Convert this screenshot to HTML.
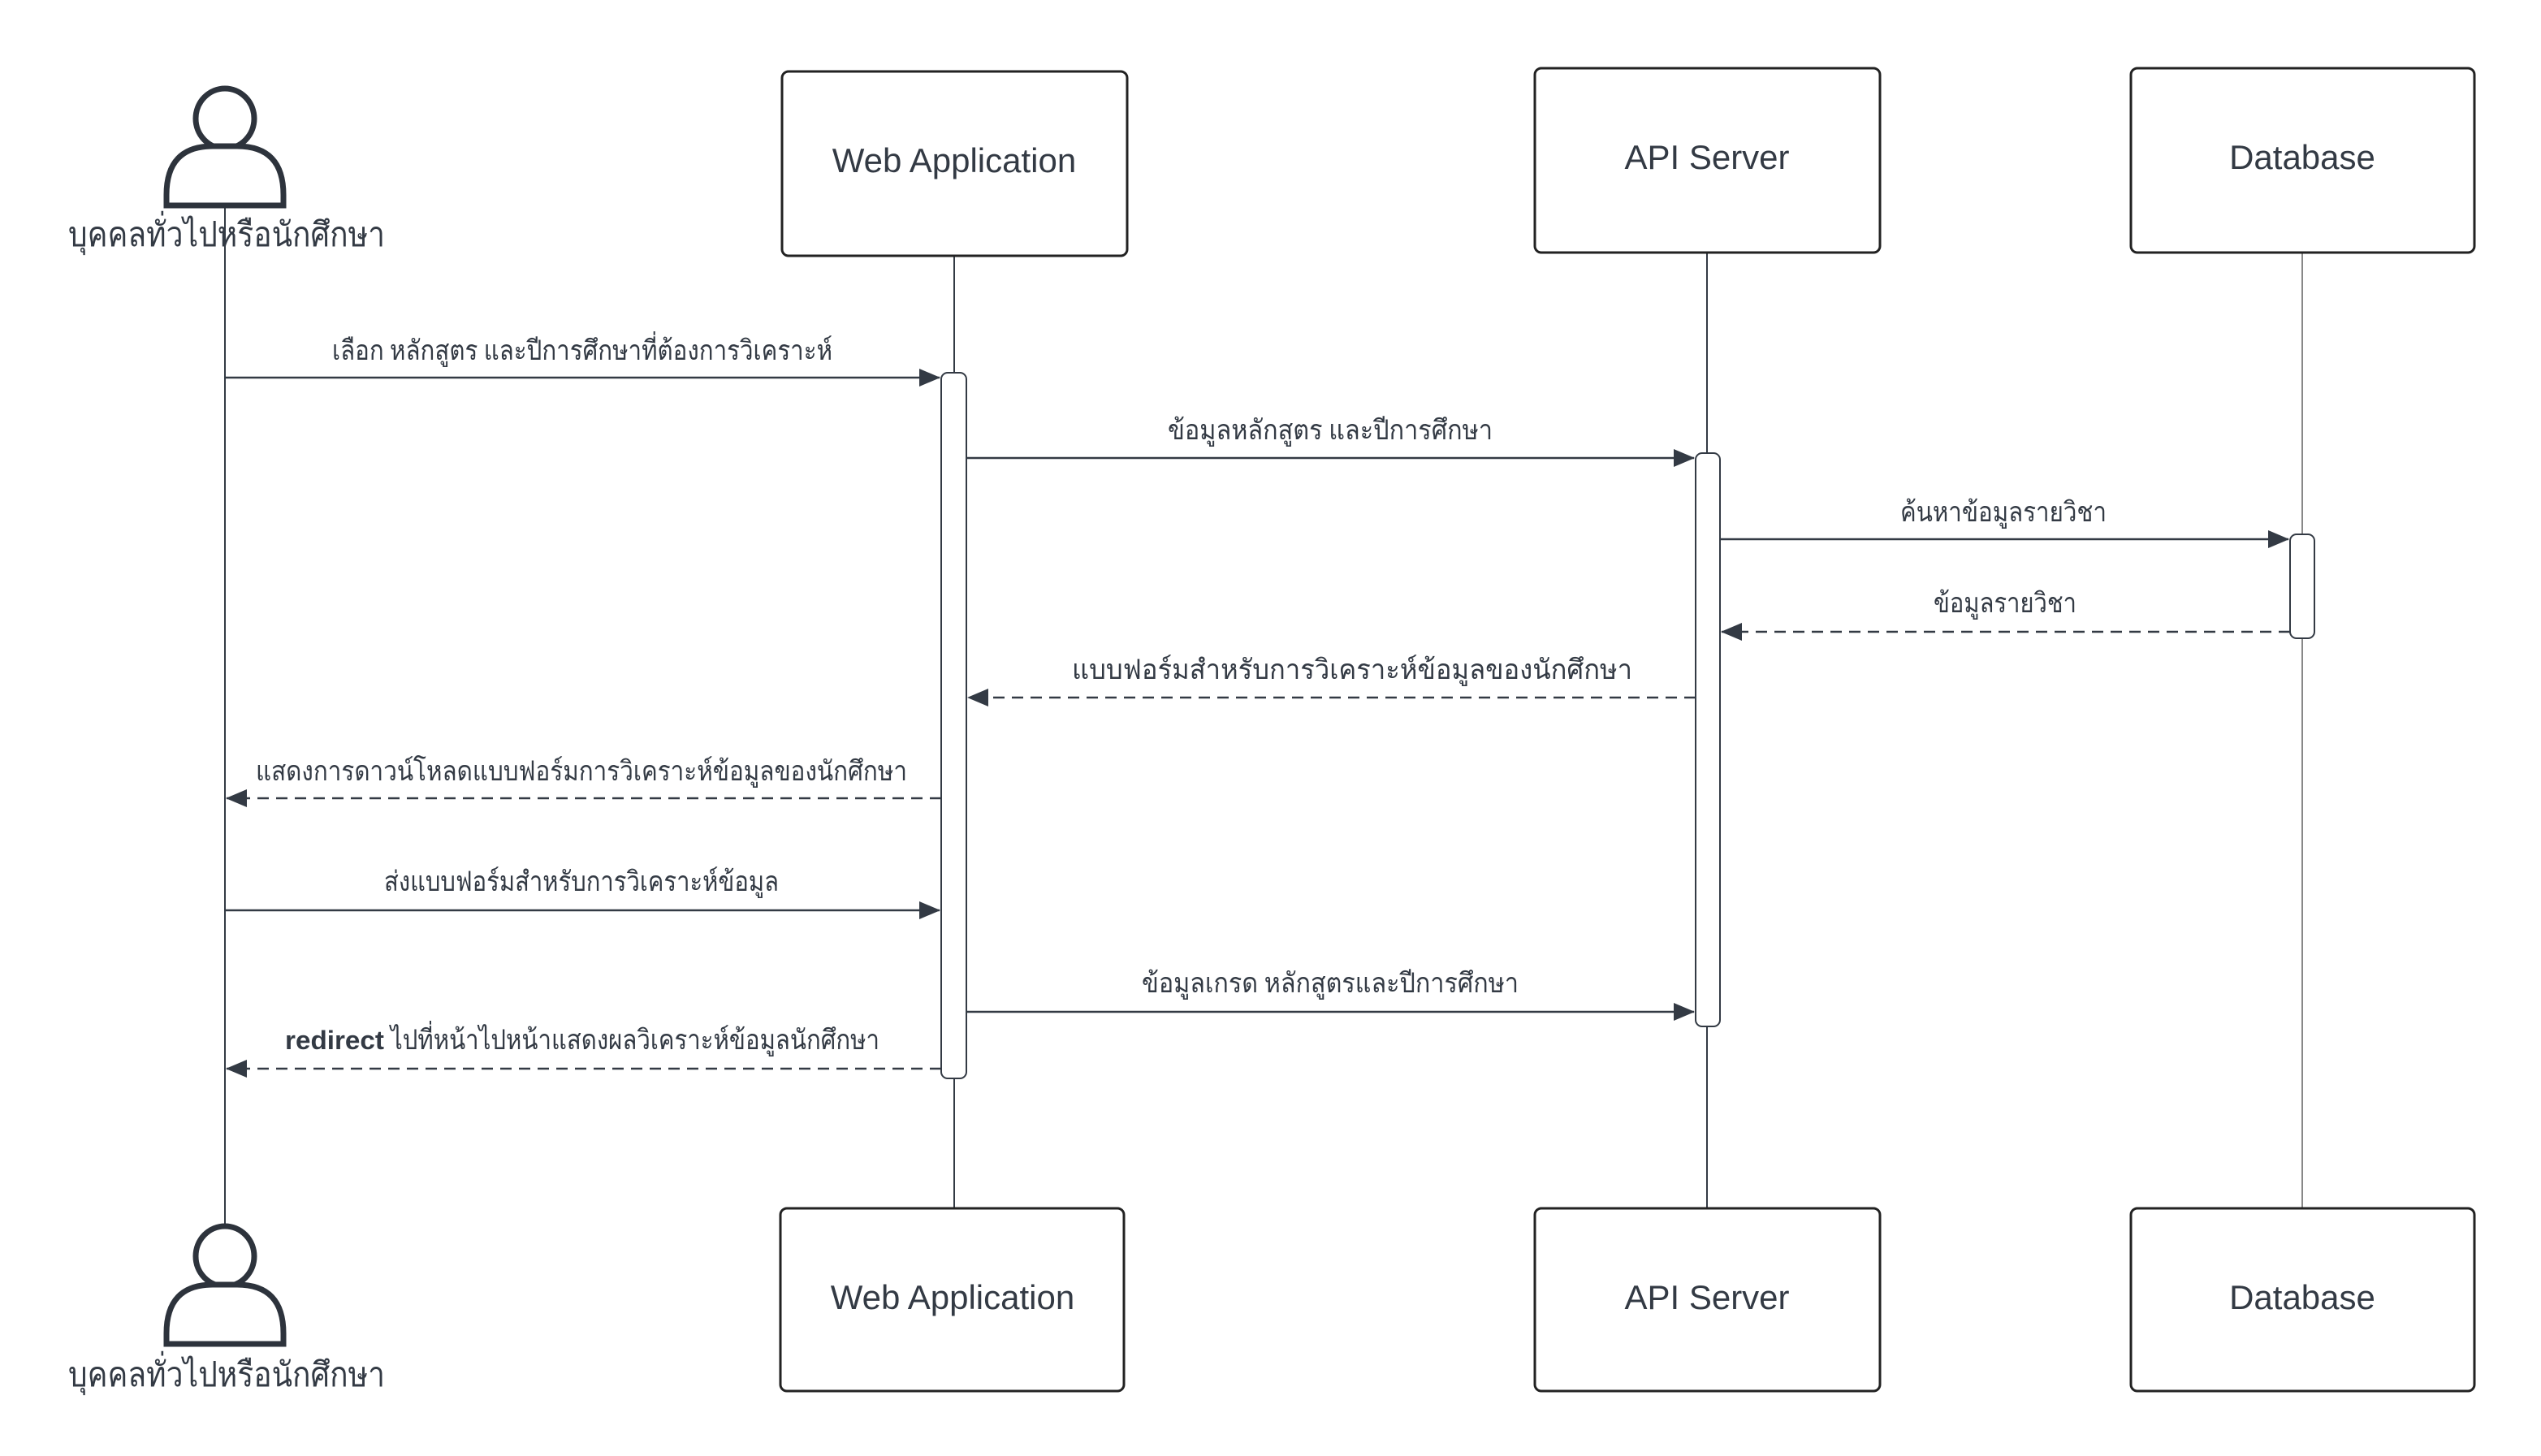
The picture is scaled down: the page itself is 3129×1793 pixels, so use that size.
<!DOCTYPE html>
<html><head><meta charset="utf-8"><style>
html,body{margin:0;padding:0;background:#fff;}
svg{display:block;}
text{font-family:"Liberation Sans","Noto Sans CJK SC",sans-serif;fill:#333a44;}
.t{font-family:"Liberation Serif","Noto Serif CJK SC",serif;font-size:34px;}
.b{font-size:42px;}
</style></head><body>
<svg width="3129" height="1793" viewBox="0 0 3129 1793" xmlns="http://www.w3.org/2000/svg">
<defs>
<marker id="a" markerWidth="26" markerHeight="22" refX="25" refY="11" orient="auto" markerUnits="userSpaceOnUse" viewBox="0 0 26 22"><path d="M0,0 L26,11 L0,22 z" fill="#333a44"/></marker>
</defs>
<g stroke="#333a44" stroke-width="2" fill="none">
<line x1="277" y1="255" x2="277" y2="1515"/>
<line x1="1175" y1="315" x2="1175" y2="1488"/>
<line x1="2102" y1="311" x2="2102" y2="1488"/>
<line x1="2835" y1="311" x2="2835" y2="1488" stroke="#888"/>
</g>
<g stroke="#222" stroke-width="3" fill="#fff">
<rect x="963" y="88" width="425" height="227" rx="8"/>
<rect x="1890" y="84" width="425" height="227" rx="8"/>
<rect x="2624" y="84" width="423" height="227" rx="8"/>
<rect x="961" y="1488" width="423" height="225" rx="8"/>
<rect x="1890" y="1488" width="425" height="225" rx="8"/>
<rect x="2624" y="1488" width="423" height="225" rx="8"/>
</g>
<text class="b" x="1175" y="212" text-anchor="middle">Web Application</text>
<text class="b" x="2102" y="208" text-anchor="middle">API Server</text>
<text class="b" x="2835" y="208" text-anchor="middle">Database</text>
<text class="b" x="1173" y="1612" text-anchor="middle">Web Application</text>
<text class="b" x="2102" y="1612" text-anchor="middle">API Server</text>
<text class="b" x="2835" y="1612" text-anchor="middle">Database</text>
<g stroke="#2d333c" stroke-width="7" fill="#fff">
<ellipse cx="277" cy="146" rx="36" ry="37"/>
<path d="M205,253 L205,240 Q205,180 262,180 L292,180 Q349,180 349,240 L349,253 Z"/>
<ellipse cx="277" cy="1547" rx="36" ry="37"/>
<path d="M205,1655 L205,1642 Q205,1582 262,1582 L292,1582 Q349,1582 349,1642 L349,1655 Z"/>
</g>
<text class="t" x="84" y="303" textLength="390" lengthAdjust="spacingAndGlyphs" style="font-size:42px">บุคคลทั่วไปหรือนักศึกษา</text>
<text class="t" x="84" y="1707" textLength="390" lengthAdjust="spacingAndGlyphs" style="font-size:42px">บุคคลทั่วไปหรือนักศึกษา</text>
<g stroke="#333a44" stroke-width="2" fill="#fff">
<rect x="1159" y="459" width="31" height="869" rx="8"/>
<rect x="2088" y="558" width="30" height="706" rx="8"/>
<rect x="2820" y="658" width="30" height="128" rx="8"/>
</g>
<g stroke="#333a44" stroke-width="2.5" fill="none" marker-end="url(#a)">
<line x1="277" y1="465" x2="1157" y2="465"/>
<line x1="1190" y1="564" x2="2086" y2="564"/>
<line x1="2118" y1="664" x2="2818" y2="664"/>
<line x1="2820" y1="778" x2="2120" y2="778" stroke-dasharray="14,9"/>
<line x1="2088" y1="859" x2="1192" y2="859" stroke-dasharray="14,9"/>
<line x1="1159" y1="983" x2="279" y2="983" stroke-dasharray="14,9"/>
<line x1="277" y1="1121" x2="1157" y2="1121"/>
<line x1="1190" y1="1246" x2="2086" y2="1246"/>
<line x1="1159" y1="1316" x2="279" y2="1316" stroke-dasharray="14,9"/>
</g>
<text class="t" x="409" y="443" textLength="616" lengthAdjust="spacingAndGlyphs">เลือก หลักสูตร และปีการศึกษาที่ต้องการวิเคราะห์</text>
<text class="t" x="1438" y="541" textLength="400" lengthAdjust="spacingAndGlyphs">ข้อมูลหลักสูตร และปีการศึกษา</text>
<text class="t" x="2340" y="642" textLength="254" lengthAdjust="spacingAndGlyphs">ค้นหาข้อมูลรายวิชา</text>
<text class="t" x="2381" y="754" textLength="176" lengthAdjust="spacingAndGlyphs">ข้อมูลรายวิชา</text>
<text class="t" x="1320" y="836" textLength="690" lengthAdjust="spacingAndGlyphs">แบบฟอร์มสำหรับการวิเคราะห์ข้อมูลของนักศึกษา</text>
<text class="t" x="315" y="961" textLength="802" lengthAdjust="spacingAndGlyphs">แสดงการดาวน์โหลดแบบฟอร์มการวิเคราะห์ข้อมูลของนักศึกษา</text>
<text class="t" x="473" y="1097" textLength="486" lengthAdjust="spacingAndGlyphs">ส่งแบบฟอร์มสำหรับการวิเคราะห์ข้อมูล</text>
<text class="t" x="1406" y="1222" textLength="464" lengthAdjust="spacingAndGlyphs">ข้อมูลเกรด หลักสูตรและปีการศึกษา</text>
<text x="351" y="1292" textLength="122" lengthAdjust="spacingAndGlyphs" style="font-weight:bold;font-size:32px">redirect</text>
<text class="t" x="481" y="1292" textLength="602" lengthAdjust="spacingAndGlyphs">ไปที่หน้าไปหน้าแสดงผลวิเคราะห์ข้อมูลนักศึกษา</text>
</svg>
</body></html>
